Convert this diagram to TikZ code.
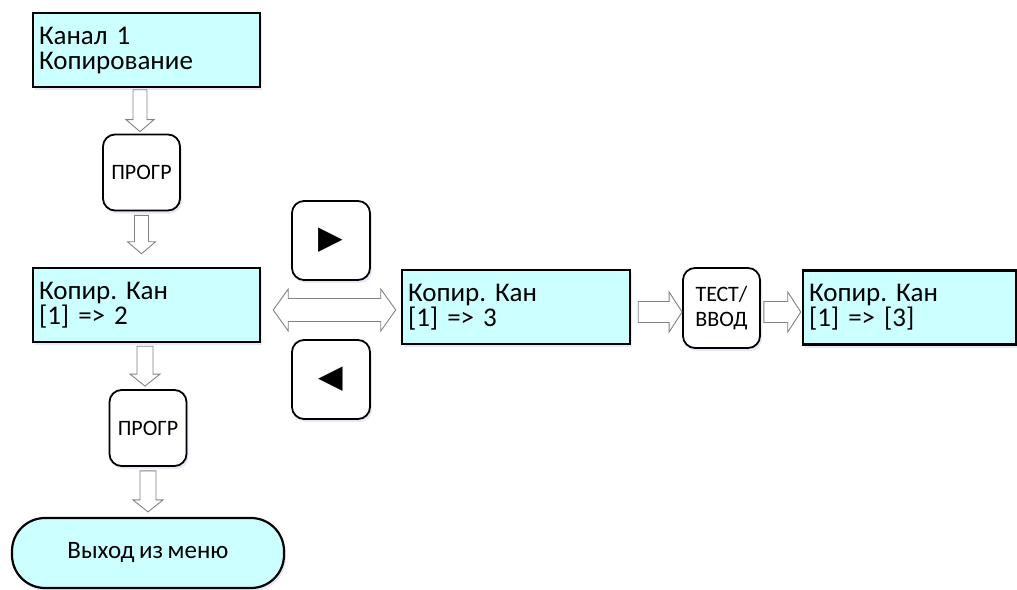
\documentclass[tikz,border=0pt]{standalone}
\usepackage{fontspec}
\setmainfont{Carlito}[WordSpace=0.8]
\newfontfamily\dvsym{DejaVu Sans}
\usetikzlibrary{calc,shadows}
\frenchspacing
\definecolor{boxcyan}{RGB}{204,255,255}
\definecolor{arrgray}{RGB}{130,130,130}
\tikzset{
  shd/.style={drop shadow={opacity=0.12,shadow xshift=2pt,shadow yshift=-3pt,fill=blue!40!gray}},
  lcd/.style={draw=black,line width=2.5pt,fill=boxcyan,shd,rectangle,
    minimum height=74pt,inner xsep=6pt,align=left,
    font=\fontsize{27}{25}\selectfont},
  keybox/.style={draw=black,line width=1.8pt,fill=white,shd,rounded corners=12pt,
    minimum width=77pt,minimum height=76pt,inner sep=0pt,align=center,
    font=\fontsize{22}{25}\selectfont},
  term/.style={draw=black,line width=2.2pt,fill=boxcyan,shd,rounded corners=33pt,
    minimum width=272pt,minimum height=70pt,font=\fontsize{25}{28}\selectfont},
  hollow/.style={draw=arrgray,line width=0.9pt,fill=white,line join=miter},
}
% vertical block arrow (down): from, to, shaft half, head half, head length
\newcommand\vblk[5]{\draw[hollow] let \p1=(#1), \p2=(#2) in
  (\x1-#3pt,\y1) -- (\x1-#3pt,\y2+#5pt) -- (\x1-#4pt,\y2+#5pt) -- (\x1,\y2)
  -- (\x1+#4pt,\y2+#5pt) -- (\x1+#3pt,\y2+#5pt) -- (\x1+#3pt,\y1) -- cycle;}
% horizontal block arrow (right)
\newcommand\hblk[5]{\draw[hollow] let \p1=(#1), \p2=(#2) in
  (\x1,\y1-#3pt) -- (\x2-#5pt,\y1-#3pt) -- (\x2-#5pt,\y1-#4pt) -- (\x2,\y1)
  -- (\x2-#5pt,\y1+#4pt) -- (\x2-#5pt,\y1+#3pt) -- (\x1,\y1+#3pt) -- cycle;}
% double-headed horizontal block arrow
\newcommand\dblk[5]{\draw[hollow] let \p1=(#1), \p2=(#2) in
  (\x1,\y1) -- (\x1+#5pt,\y1+#4pt) -- (\x1+#5pt,\y1+#3pt) -- (\x2-#5pt,\y1+#3pt)
  -- (\x2-#5pt,\y1+#4pt) -- (\x2,\y1) -- (\x2-#5pt,\y1-#4pt) -- (\x2-#5pt,\y1-#3pt)
  -- (\x1+#5pt,\y1-#3pt) -- (\x1+#5pt,\y1-#4pt) -- cycle;}
\begin{document}
\begin{tikzpicture}[x=1pt,y=-1pt]
\useasboundingbox[fill=white] (0,0) rectangle (1017,589);
\begin{scope}
\clip (0,0) rectangle (1017,589);
% nodes
\node[lcd,minimum width=227pt,text width=215pt] (b1) at (146.5,50) {Канал 1\\Копирование};
\node[keybox] (p1) at (141.5,172.5) {ПРОГР};
\node[lcd,minimum width=227pt,text width=215pt] (b2) at (146.5,305) {Копир. Кан\\{[1]} => 2};
\node[keybox] (p2) at (148,428) {ПРОГР};
\node[term] (ex) at (148,553) {Выход из меню};
\node[keybox,minimum width=78pt,minimum height=79pt,font=\dvsym\fontsize{32}{36}\selectfont] (kr) at (331,240.5) {▶};
\node[keybox,minimum width=78pt,minimum height=79pt,font=\dvsym\fontsize{32}{36}\selectfont] (kl) at (331,379.5) {◀};
\node[lcd,minimum width=228pt,text width=216pt] (b3) at (516,307) {Копир. Кан\\{[1]} => 3};
\node[keybox,minimum height=80pt] (tv) at (721.5,308) {ТЕСТ/\\ВВОД};
\node[lcd,minimum width=213pt,text width=201pt] (b4) at (909.5,307.5) {Копир. Кан\\{[1]} => [3]};
% connectors
\coordinate (a1s) at ($(p1.north |- b1.south)+(-1.5,1.5)$);
\coordinate (a1e) at ($(p1.north)+(0,-2)$);
\vblk{a1s}{a1e}{7}{14}{12}
\coordinate (a2s) at ($(p1.south)+(0,4)$);
\coordinate (a2e) at ($(p1.south |- b2.north)+(0,-13)$);
\vblk{a2s}{a2e}{7}{14}{12}
\coordinate (a3s) at ($(p2.north |- b2.south)+(-3,3)$);
\coordinate (a3e) at ($(p2.north)+(0,-3)$);
\vblk{a3s}{a3e}{8}{15}{12}
\coordinate (a4s) at ($(p2.south)+(0,4)$);
\coordinate (a4e) at ($(p2.south |- ex.north)+(0,-5)$);
\vblk{a4s}{a4e}{8}{15}{12}
\coordinate (d1s) at ($(b2.east)+(12,5)$);
\coordinate (d1e) at ($(b3.west |- d1s)+(-5,0)$);
\dblk{d1s}{d1e}{11.5}{21}{15}
\coordinate (a5s) at ($(b3.east)+(7,5)$);
\coordinate (a5e) at (tv.west |- a5s);
\hblk{a5s}{a5e}{10.5}{20}{13}
\coordinate (a6s) at ($(tv.east)+(3,4)$);
\coordinate (a6e) at ($(b4.west |- a6s)+(-1,0)$);
\hblk{a6s}{a6e}{10.5}{20}{13}
\end{scope}
\end{tikzpicture}
\end{document}
